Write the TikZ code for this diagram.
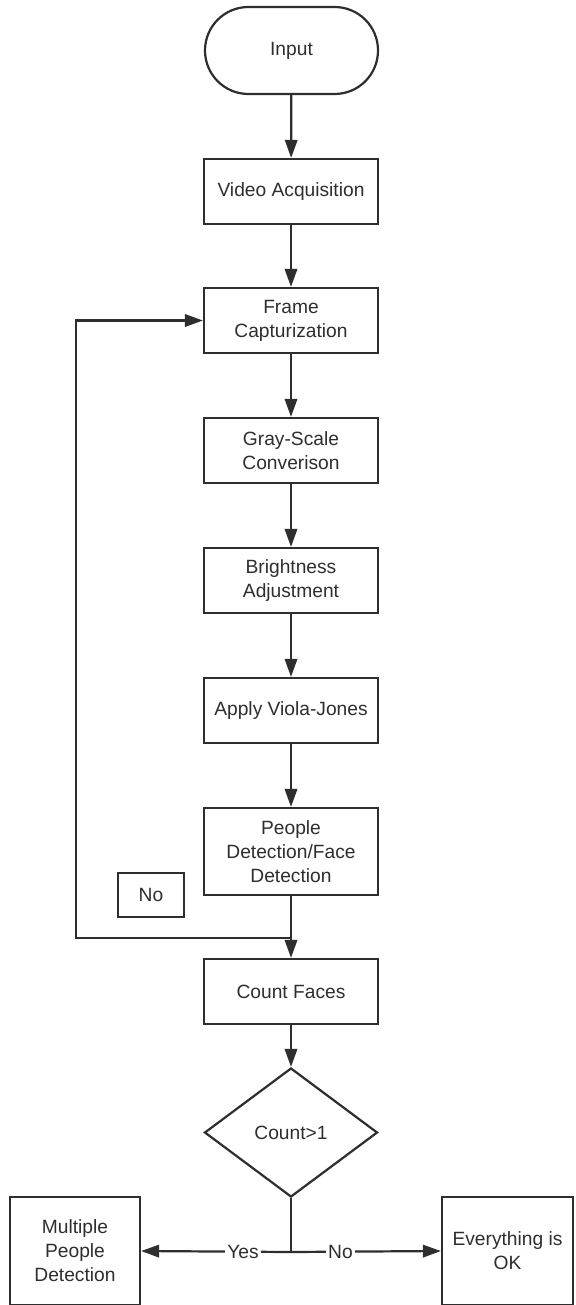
\documentclass[tikz,border=0pt]{standalone}
\usepackage{fontspec}
\setmainfont{Liberation Sans}
\usetikzlibrary{arrows.meta,shapes.geometric}
\definecolor{ink}{HTML}{2E2E2E}
\begin{document}
\begin{tikzpicture}[x=0.5pt,y=-0.5pt,
  every node/.style={font=\fontsize{9.6}{12}\selectfont, text=ink, align=center},
  proc/.style={draw=ink, line width=1.1pt, rectangle, minimum width=87pt, minimum height=32.5pt, inner sep=2pt},
  term/.style={draw=ink, line width=1.1pt, rectangle, rounded corners=21.7pt, minimum width=86.5pt, minimum height=43.5pt},
  decide/.style={draw=ink, line width=1.1pt, diamond, minimum width=86.5pt, minimum height=64.5pt, inner sep=0pt},
  lbl/.style={fill=white, inner sep=1pt},
  link/.style={draw=ink, line width=1.1pt},
  arr/.style={link, -{Triangle[length=9pt,width=6.2pt]}}]
\useasboundingbox (0,0) rectangle (575,1305);
\fill[white] (0,0) rectangle (575,1305);

% main column
\node[term] (input) at (291.5,50.5) {Input};
\node[proc] (video) at (291,191.5) {Video Acquisition};
\node[proc] (frame) at (291,320.5) {Frame\\Capturization};
\node[proc] (gray) at (291,450.5) {Gray-Scale\\Converison};
\node[proc] (bright) at (291,580.5) {Brightness\\Adjustment};
\node[proc] (viola) at (291,710.5) {Apply Viola-Jones};
\node[proc, minimum height=43.5pt] (people) at (291,851.5) {People\\Detection/Face\\Detection};
\node[proc] (count) at (291,991.5) {Count Faces};
\node[decide] (check) at (291,1132.5) {Count>1};

% loop label
\node[proc, minimum width=33pt, minimum height=22pt] (nolabel) at (151,895) {No};

% outcomes
\node[proc, minimum width=65pt, minimum height=54pt] (multi) at (75,1251) {Multiple\\People\\Detection};
\node[proc, minimum width=65.5pt, minimum height=54pt] (fine) at (507.5,1251) {Everything is\\OK};

% connectors
\draw[arr] (input) -- (video);
\draw[arr] (video) -- (frame);
\draw[arr] (frame) -- (gray);
\draw[arr] (gray) -- (bright);
\draw[arr] (bright) -- (viola);
\draw[arr] (viola) -- (people);
\draw[arr] (people) -- (count);
\draw[arr] (count) -- (check);

\coordinate (loopA) at (291,938);
\coordinate (loopB) at (76,938);
\draw[arr] (loopA) -- (loopB) |- (frame.west);

\coordinate (split) at (291,1252);
\draw[link] (check.south) -- (split);
\draw[arr] (split) -- node[lbl, pos=0.32] {Yes} (multi.east);
\draw[arr] (split) -- node[lbl, pos=0.33] {No} (fine.west);
\end{tikzpicture}
\end{document}
